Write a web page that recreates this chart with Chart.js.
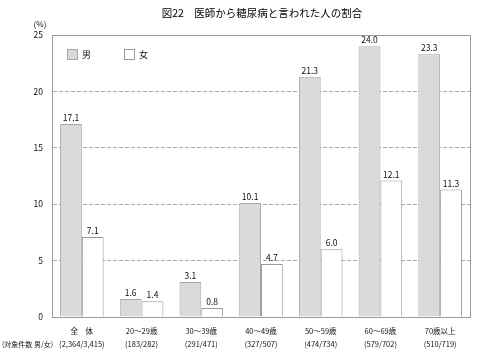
<!DOCTYPE html>
<html><head><meta charset="utf-8">
<script src="https://cdn.jsdelivr.net/npm/chart.js@4/dist/chart.umd.min.js"></script>
<style>html,body{margin:0;padding:0;background:#fff}#wrap{width:480px;height:353px}</style>
</head><body><div id="wrap"><canvas id="c" width="480" height="353"></canvas></div>
<script>
const title = '図22　医師から糖尿病と言われた人の割合';
const categories = ['全　体','20～29歳','30～39歳','40～49歳','50～59歳','60～69歳','70歳以上'];
const counts = ['(2,364/3,415)','(183/282)','(291/471)','(327/507)','(474/734)','(579/702)','(510/719)'];
const seriesNames = ['男','女'];
const male = [17.1,1.6,3.1,10.1,21.3,24.0,23.3];
const female = [7.1,1.4,0.8,4.7,6.0,12.1,11.3];
const yTicks = [0,5,10,15,20,25];

const FONT = '"Noto Sans CJK JP", "Noto Sans", sans-serif';
const TEXT = '#111';
const MALE_FILL = '#dadada', MALE_BORDER = '#a8a8a8';
const FEMALE_FILL = '#ffffff', FEMALE_BORDER = '#9a9a9a';

const decor = {
  id: 'decor',
  afterDraw(chart) {
    const ctx = chart.ctx, a = chart.chartArea;
    ctx.save();
    ctx.strokeStyle = '#9a9a9a'; ctx.lineWidth = 1;
    ctx.beginPath();
    ctx.moveTo(a.left, a.top + 0.5); ctx.lineTo(a.right + 0.5, a.top + 0.5); ctx.lineTo(a.right + 0.5, a.bottom);
    ctx.stroke();
    ctx.fillStyle = '#000';
    ctx.font = '10.5px ' + FONT;
    ctx.textAlign = 'center'; ctx.textBaseline = 'middle';
    ctx.fillText(title, 262, 13);
    ctx.font = '8px ' + FONT;
    ctx.fillStyle = TEXT;
    ctx.fillText('(%)', 40, 24);
    ctx.textAlign = 'left';
    ctx.font = '7px ' + FONT;
    ctx.fillText('(対象件数 男/女)', 2, 344);
    const items = [[67, MALE_FILL, MALE_BORDER, seriesNames[0]], [124, FEMALE_FILL, FEMALE_BORDER, seriesNames[1]]];
    items.forEach(([x, f, b, t]) => {
      ctx.fillStyle = f; ctx.fillRect(x, 49, 10, 10);
      ctx.strokeStyle = b; ctx.strokeRect(x + 0.5, 49.5, 10, 10);
      ctx.fillStyle = TEXT; ctx.font = '9px ' + FONT;
      ctx.textAlign = 'left'; ctx.textBaseline = 'middle';
      ctx.fillText(t, x + 15, 54.5);
    });
    ctx.font = '8.5px ' + FONT; ctx.textAlign = 'center'; ctx.textBaseline = 'alphabetic';
    ctx.fillStyle = TEXT;
    chart.data.datasets.forEach((ds, di) => {
      chart.getDatasetMeta(di).data.forEach((bar, i) => {
        ctx.fillText(ds.data[i].toFixed(1), bar.x, bar.y - 3);
      });
    });
    ctx.restore();
  }
};

new Chart(document.getElementById('c'), {
  type: 'bar',
  data: {
    labels: categories.map((c, i) => [c, counts[i]]),
    datasets: [
      { label: seriesNames[0], data: male, backgroundColor: MALE_FILL, borderColor: MALE_BORDER, borderWidth: 1, borderSkipped: 'bottom' },
      { label: seriesNames[1], data: female, backgroundColor: FEMALE_FILL, borderColor: FEMALE_BORDER, borderWidth: 1, borderSkipped: 'bottom' }
    ]
  },
  options: {
    responsive: false, animation: false,
    layout: { padding: { top: 35, right: 10, left: 0, bottom: 0 } },
    plugins: { legend: { display: false }, tooltip: { enabled: false }, title: { display: false } },
    datasets: { bar: { categoryPercentage: 0.73, barPercentage: 1.0 } },
    scales: {
      x: {
        grid: { display: false },
        border: { display: true, color: '#9a9a9a', width: 1 },
        ticks: { color: TEXT, font: { family: FONT, size: 7.5, lineHeight: 1.8 }, padding: -1, maxRotation: 0, autoSkip: false },
        afterFit(s) { s.height = 36; }
      },
      y: {
        min: 0, max: 25,
        afterBuildTicks(s) { s.ticks = yTicks.map(v => ({ value: v })); },
        grid: {
          color: ctx => (ctx.tick && (ctx.tick.value === 0 || ctx.tick.value === 25)) ? 'rgba(0,0,0,0)' : '#a8a8a8',
          lineWidth: 1, drawTicks: false
        },
        border: { display: true, color: '#9a9a9a', width: 1, dash: [4, 2] },
        ticks: { color: TEXT, font: { family: FONT, size: 8.5 }, padding: 9 },
        afterFit(s) { s.width = 52; }
      }
    }
  },
  plugins: [decor]
});
</script>
</body></html>
